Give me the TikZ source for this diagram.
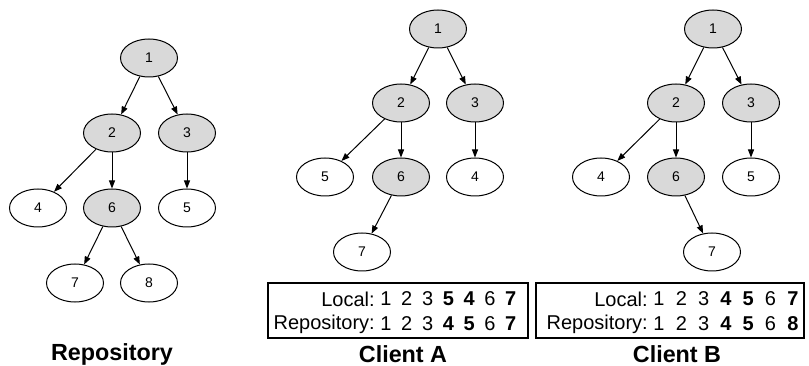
\documentclass[tikz,border=0pt]{standalone}
\usepackage{fontspec}
\setmainfont{Liberation Sans}
\usetikzlibrary{shapes.geometric,arrows.meta}
\definecolor{nodegray}{HTML}{D9D9D9}
\tikzset{
  vtx/.style={ellipse,draw=black,line width=0.75pt,minimum width=42.75pt,minimum height=28.5pt,inner sep=0pt,font=\fontsize{10.5}{12}\selectfont},
  gvtx/.style={vtx,fill=nodegray},
  wvtx/.style={vtx,fill=white},
  edge/.style={line width=0.75pt,-{Triangle[length=6pt,width=4.5pt]}},
  tbox/.style={draw=black,line width=1.5pt},
  tlab/.style={anchor=east,inner sep=0pt,font=\fontsize{15}{18}\selectfont},
  tdig/.style={inner sep=0pt,font=\fontsize{15}{18}\selectfont},
  ttl/.style={font=\bfseries\fontsize{17.5}{20}\selectfont,inner sep=0pt}
}
\begin{document}
\begin{tikzpicture}[x=0.75pt,y=-0.75pt]
\useasboundingbox (0,0) rectangle (809,366);
% Repository
\node[gvtx] (r1) at (149,58) {1};
\node[gvtx] (r2) at (112,133) {2};
\node[gvtx] (r3) at (187,133) {3};
\node[wvtx] (r4) at (38,208) {4};
\node[gvtx] (r6) at (112,208) {6};
\node[wvtx] (r5) at (187,208) {5};
\node[wvtx] (r7) at (75,283) {7};
\node[wvtx] (r8) at (149,283) {8};
\draw[edge] (r1) -- (r2);
\draw[edge] (r1) -- (r3);
\draw[edge] (r2) -- (r4);
\draw[edge] (r2) -- (r6);
\draw[edge] (r3) -- (r5);
\draw[edge] (r6) -- (r7);
\draw[edge] (r6) -- (r8);
\node[ttl] (rt) at (112,354) {Repository};
% Client A
\node[gvtx] (a1) at (438,29) {1};
\node[gvtx] (a2) at (401,103) {2};
\node[gvtx] (a3) at (475,103) {3};
\node[wvtx] (a5) at (325,177) {5};
\node[gvtx] (a6) at (401,177) {6};
\node[wvtx] (a4) at (475,177) {4};
\node[wvtx] (a7) at (362,252) {7};
\draw[edge] (a1) -- (a2);
\draw[edge] (a1) -- (a3);
\draw[edge] (a2) -- (a5);
\draw[edge] (a2) -- (a6);
\draw[edge] (a3) -- (a4);
\draw[edge] (a6) -- (a7);
\draw[tbox] (268,283) rectangle (528,338);
\node[tlab] (al) at (375,299) {Local:};
\node[tlab] (ar) at (375,324) {Repository:};
\foreach \d [count=\i from 0] in {1,2,3,\textbf{5},\textbf{4},6,\textbf{7}}
  \node[tdig] (ald\i) at ({386+20.8*\i},299) {\d};
\foreach \d [count=\i from 0] in {1,2,3,\textbf{4},\textbf{5},6,\textbf{7}}
  \node[tdig] (ard\i) at ({386+20.8*\i},324) {\d};
\node[ttl] (at) at (403,354) {Client A};
% Client B
\node[gvtx] (b1) at (713,29) {1};
\node[gvtx] (b2) at (676,103) {2};
\node[gvtx] (b3) at (751,103) {3};
\node[wvtx] (b4) at (601,177) {4};
\node[gvtx] (b6) at (676,177) {6};
\node[wvtx] (b5) at (751,177) {5};
\node[wvtx] (b7) at (712,252) {7};
\draw[edge] (b1) -- (b2);
\draw[edge] (b1) -- (b3);
\draw[edge] (b2) -- (b4);
\draw[edge] (b2) -- (b6);
\draw[edge] (b3) -- (b5);
\draw[edge] (b6) -- (b7);
\draw[tbox] (536,283) rectangle (804,338);
\node[tlab] (bl) at (648,299) {Local:};
\node[tlab] (br) at (648,324) {Repository:};
\foreach \d [count=\i from 0] in {1,2,3,\textbf{4},\textbf{5},6,\textbf{7}}
  \node[tdig] (bld\i) at ({659+22.3*\i},299) {\d};
\foreach \d [count=\i from 0] in {1,2,3,\textbf{4},\textbf{5},6,\textbf{8}}
  \node[tdig] (brd\i) at ({659+22.3*\i},324) {\d};
\node[ttl] (bt) at (677,354) {Client B};
\end{tikzpicture}
\end{document}
